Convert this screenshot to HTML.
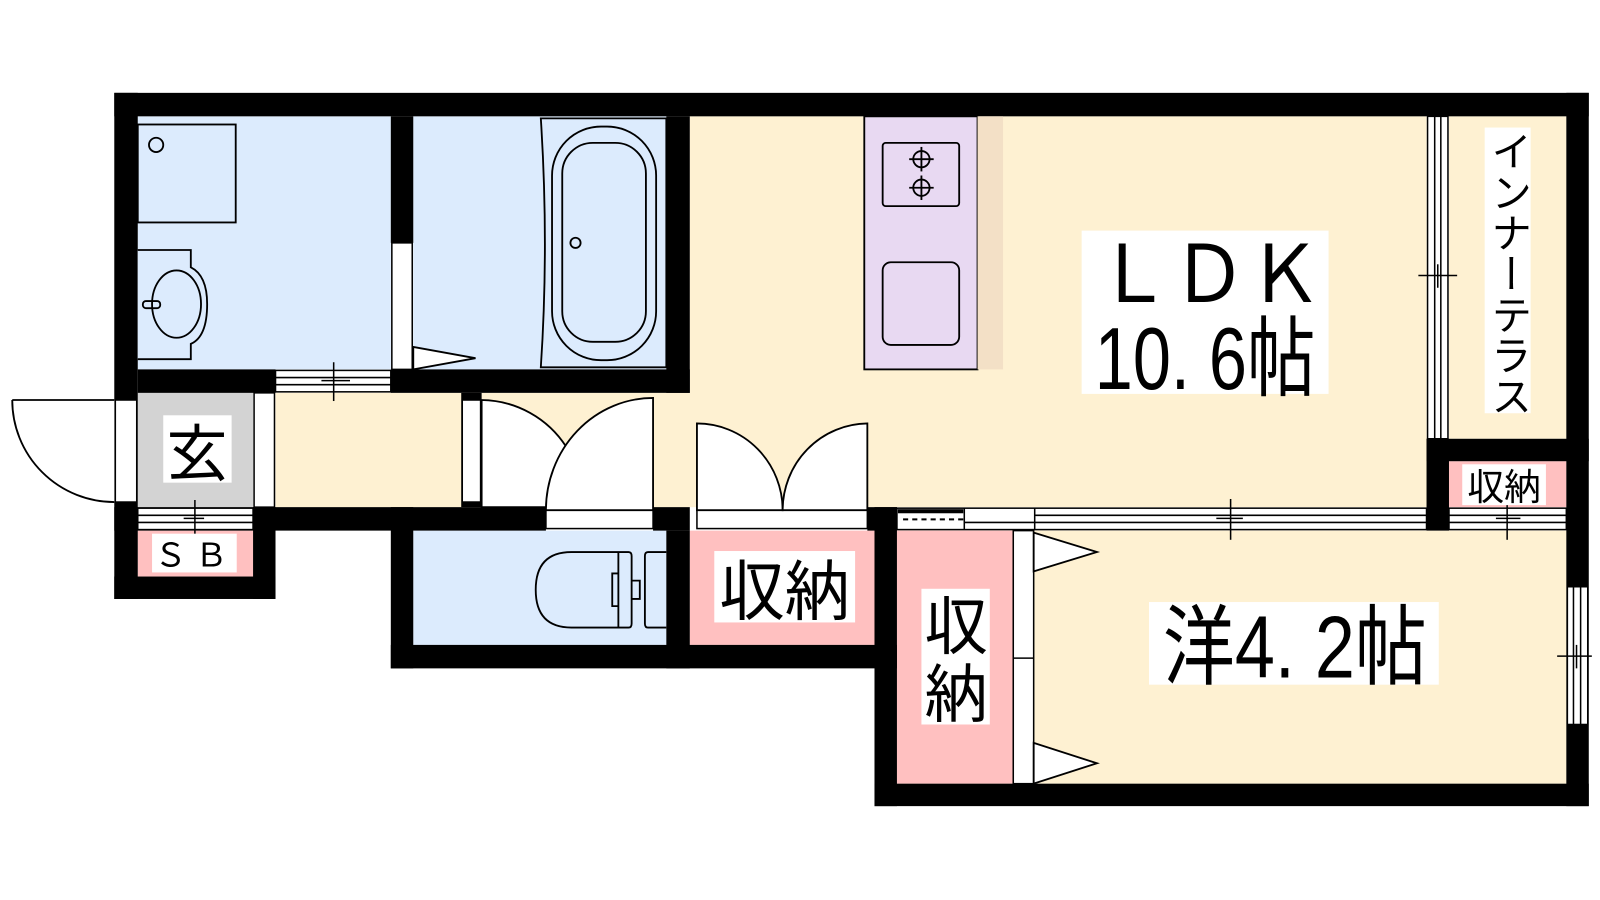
<!DOCTYPE html>
<html><head><meta charset="utf-8"><style>
html,body{margin:0;padding:0;background:#fff;width:1600px;height:900px;overflow:hidden}
svg{display:block}
text{font-family:"Liberation Sans","Noto Sans CJK JP",sans-serif;fill:#000}
</style></head><body>
<svg width="1600" height="900" viewBox="0 0 1568 882" xmlns="http://www.w3.org/2000/svg">
<!-- floors -->
<rect x="135" y="114" width="248" height="248" fill="#dcebfd"/>
<rect x="405" y="114" width="248" height="248" fill="#dcebfd"/>
<rect x="676" y="114" width="722" height="383" fill="#fef1d2"/>
<rect x="270" y="385" width="410" height="112" fill="#fef1d2"/>
<rect x="1420" y="114" width="115" height="316" fill="#fef1d2"/>
<rect x="135" y="385" width="113" height="112" fill="#d3d3d3"/>
<rect x="135" y="520" width="113" height="45" fill="#ffc0c0"/>
<rect x="405" y="520" width="248" height="112" fill="#dcebfd"/>
<rect x="676" y="520" width="181" height="112" fill="#ffc0c0"/>
<rect x="879" y="520" width="656" height="248" fill="#fef1d2"/>
<rect x="879" y="520" width="114" height="248" fill="#ffc0c0"/>
<rect x="1420" y="452" width="115" height="45" fill="#ffc0c0"/>
<!-- walls -->
<g fill="#000">
<rect x="112" y="91" width="1445" height="23"/>
<rect x="112" y="91" width="23" height="496"/>
<rect x="1535" y="91" width="22" height="699"/>
<rect x="857" y="768" width="700" height="22"/>
<rect x="857" y="497" width="22" height="293"/>
<rect x="383" y="114" width="22" height="124"/>
<rect x="653" y="114" width="23" height="271"/>
<rect x="135" y="362" width="135" height="23"/>
<rect x="383" y="362" width="293" height="23"/>
<rect x="112" y="497" width="158" height="23"/>
<rect x="248" y="497" width="22" height="90"/>
<rect x="112" y="565" width="158" height="22"/>
<rect x="248" y="497" width="287" height="23"/>
<rect x="640" y="497" width="36" height="23"/>
<rect x="850" y="497" width="29" height="23"/>
<rect x="383" y="497" width="22" height="158"/>
<rect x="383" y="632" width="496" height="23"/>
<rect x="653" y="520" width="23" height="135"/>
<rect x="1398" y="430" width="159" height="22"/>
<rect x="1398" y="430" width="22" height="90"/>
<rect x="452" y="385" width="20" height="112"/>
</g>
<!-- windows / sliding strips -->
<g fill="#fff" stroke="#000" stroke-width="1.5">
<rect x="270" y="363" width="113" height="21"/>
<line x1="270" y1="370" x2="383" y2="370"/><line x1="270" y1="377" x2="383" y2="377"/>
<line x1="327" y1="355" x2="327" y2="393"/><line x1="315" y1="373" x2="343" y2="373"/>
<rect x="135" y="498" width="113" height="21"/>
<line x1="135" y1="505" x2="248" y2="505"/><line x1="135" y1="512" x2="248" y2="512"/>
<line x1="191" y1="490" x2="191" y2="528"/><line x1="180" y1="508" x2="200" y2="508"/>
<rect x="879" y="498" width="519" height="21"/>
<line x1="1014" y1="505" x2="1398" y2="505"/><line x1="945" y1="512" x2="1398" y2="512"/>
<line x1="945" y1="498" x2="945" y2="519"/><line x1="1014" y1="498" x2="1014" y2="519"/>
<line x1="1206" y1="489" x2="1206" y2="529"/><line x1="1192" y1="508" x2="1218" y2="508"/>
<rect x="1420" y="498" width="115" height="21"/>
<line x1="1420" y1="505" x2="1535" y2="505"/><line x1="1420" y1="512" x2="1535" y2="512"/>
<line x1="1477" y1="490" x2="1477" y2="529"/><line x1="1466" y1="508" x2="1490" y2="508"/>
<rect x="1399" y="114" width="20" height="316"/>
<line x1="1406" y1="114" x2="1406" y2="430"/><line x1="1412" y1="114" x2="1412" y2="430"/>
<line x1="1390" y1="270" x2="1428" y2="270"/><line x1="1409" y1="259" x2="1409" y2="282"/>
<rect x="1536" y="575" width="20" height="135"/>
<line x1="1542" y1="575" x2="1542" y2="710"/><line x1="1549" y1="575" x2="1549" y2="710"/>
<line x1="1526" y1="643" x2="1560" y2="643"/><line x1="1545" y1="632" x2="1545" y2="655"/>
<rect x="384" y="238" width="20" height="124"/>
<rect x="113" y="392" width="21" height="100"/>
<rect x="249" y="385" width="20" height="112"/>
<rect x="453" y="392" width="18" height="100"/>
<rect x="535" y="500" width="105" height="18"/>
<rect x="683" y="500" width="167" height="18"/>
<rect x="993" y="520" width="20" height="248"/>
<line x1="993" y1="645" x2="1013" y2="645"/>
</g>
<line x1="885" y1="509" x2="945" y2="509" stroke="#000" stroke-width="2" stroke-dasharray="5,4"/>
<rect x="880" y="499" width="64" height="4" fill="#000"/>
<!-- doors -->
<g fill="#fff" stroke="#000" stroke-width="1.8">
<path d="M12,392 L112,392 L112,492 A100,100 0 0 1 12,392 Z" stroke="none"/>
<path d="M12,392 L112,392 M12,392 A100,100 0 0 0 112,492"/>
<path d="M472,392 A100,100 0 0 1 555,438 L545,497 L472,497 Z"/>
<path d="M640,390 L640,500 L535,500 A105,110 0 0 1 640,390 Z"/>
<path d="M683,415 L683,500 L767,500 A84,85 0 0 0 683,415 Z"/>
<path d="M850,415 L850,500 L767,500 A84,85 0 0 1 850,415 Z"/>
<path d="M405,340 L466,351 L405,362 Z"/>
<path d="M1013,522 L1075,541 L1013,560 Z"/>
<path d="M1013,728 L1075,748 L1013,768 Z"/>
</g>
<!-- fixtures -->
<g fill="none" stroke="#000" stroke-width="1.8">
<rect x="135" y="122" width="96" height="96" fill="#dcebfd"/>
<circle cx="153" cy="142" r="7"/>
<path d="M135,245 H187 V262 Q203,270 203,298 Q203,330 187,337 V352 H135" fill="#dcebfd"/>
<ellipse cx="173" cy="298" rx="24" ry="33"/>
<rect x="140" y="295" width="17" height="7" rx="3"/>
<path d="M530,116 H653 V360 H530 Q538,240 530,116 Z" fill="#dcebfd"/>
<rect x="541" y="124" width="102" height="229" rx="48"/>
<rect x="551" y="140" width="82" height="195" rx="30"/>
<circle cx="564" cy="238" r="5"/>
<rect x="847" y="114" width="111" height="248" fill="#e8d9f2"/>
<rect x="958" y="114" width="25" height="248" fill="#f3e0c6" stroke="none"/>
<rect x="865" y="140" width="75" height="62" rx="3"/>
<circle cx="903" cy="156" r="8"/><line x1="891" y1="156" x2="915" y2="156"/><line x1="903" y1="144" x2="903" y2="168"/>
<circle cx="903" cy="184" r="8"/><line x1="891" y1="184" x2="915" y2="184"/><line x1="903" y1="172" x2="903" y2="196"/>
<rect x="865" y="257" width="75" height="81" rx="8"/>
<path d="M606,541 H560 Q525,541 525,578 Q525,615 560,615 H606 Z M606,541 H616 Q619,541 619,545 V611 Q619,615 616,615 H606 M606,562 H600 V594 H606 M619,569 H627 V587 H619"/>
<path d="M653,541 H635 Q632,541 632,545 V611 Q632,615 635,615 H653"/>
</g>
<!-- labels -->
<g fill="#fff">
<rect x="160" y="407" width="67" height="66"/>
<rect x="149" y="523" width="83" height="38"/>
<rect x="1060" y="226" width="242" height="160"/>
<rect x="700" y="540" width="138" height="70"/>
<rect x="903" y="577" width="67" height="133"/>
<rect x="1126" y="590" width="284" height="81"/>
<rect x="1455" y="125" width="45" height="280"/>
<rect x="1433" y="455" width="82" height="40"/>
</g>
<text x="193" y="466" font-size="60" text-anchor="middle">玄</text>
<text x="191" y="555" font-size="32" text-anchor="middle" letter-spacing="8">ＳＢ</text>
<text x="1185" y="296" font-size="78" text-anchor="middle" transform="translate(1185 0) scale(0.95 1) translate(-1185 0)">ＬＤＫ</text>
<text x="1181" y="381" font-size="86" text-anchor="middle" transform="translate(1181 0) scale(0.78 1) translate(-1181 0)">10. 6帖</text>
<text x="769" y="602" font-size="64" text-anchor="middle">収納</text>
<text x="937" y="636" font-size="62" text-anchor="middle">収</text>
<text x="937" y="702" font-size="62" text-anchor="middle">納</text>
<text x="1269" y="664" font-size="86" text-anchor="middle" transform="translate(1269 0) scale(0.82 1) translate(-1269 0)">洋4. 2帖</text>
<text x="1474" y="490" font-size="36" text-anchor="middle">収納</text>
<text x="1478" y="128" font-size="40" style="writing-mode:vertical-rl">インナーテラス</text>
</svg>
</body></html>
